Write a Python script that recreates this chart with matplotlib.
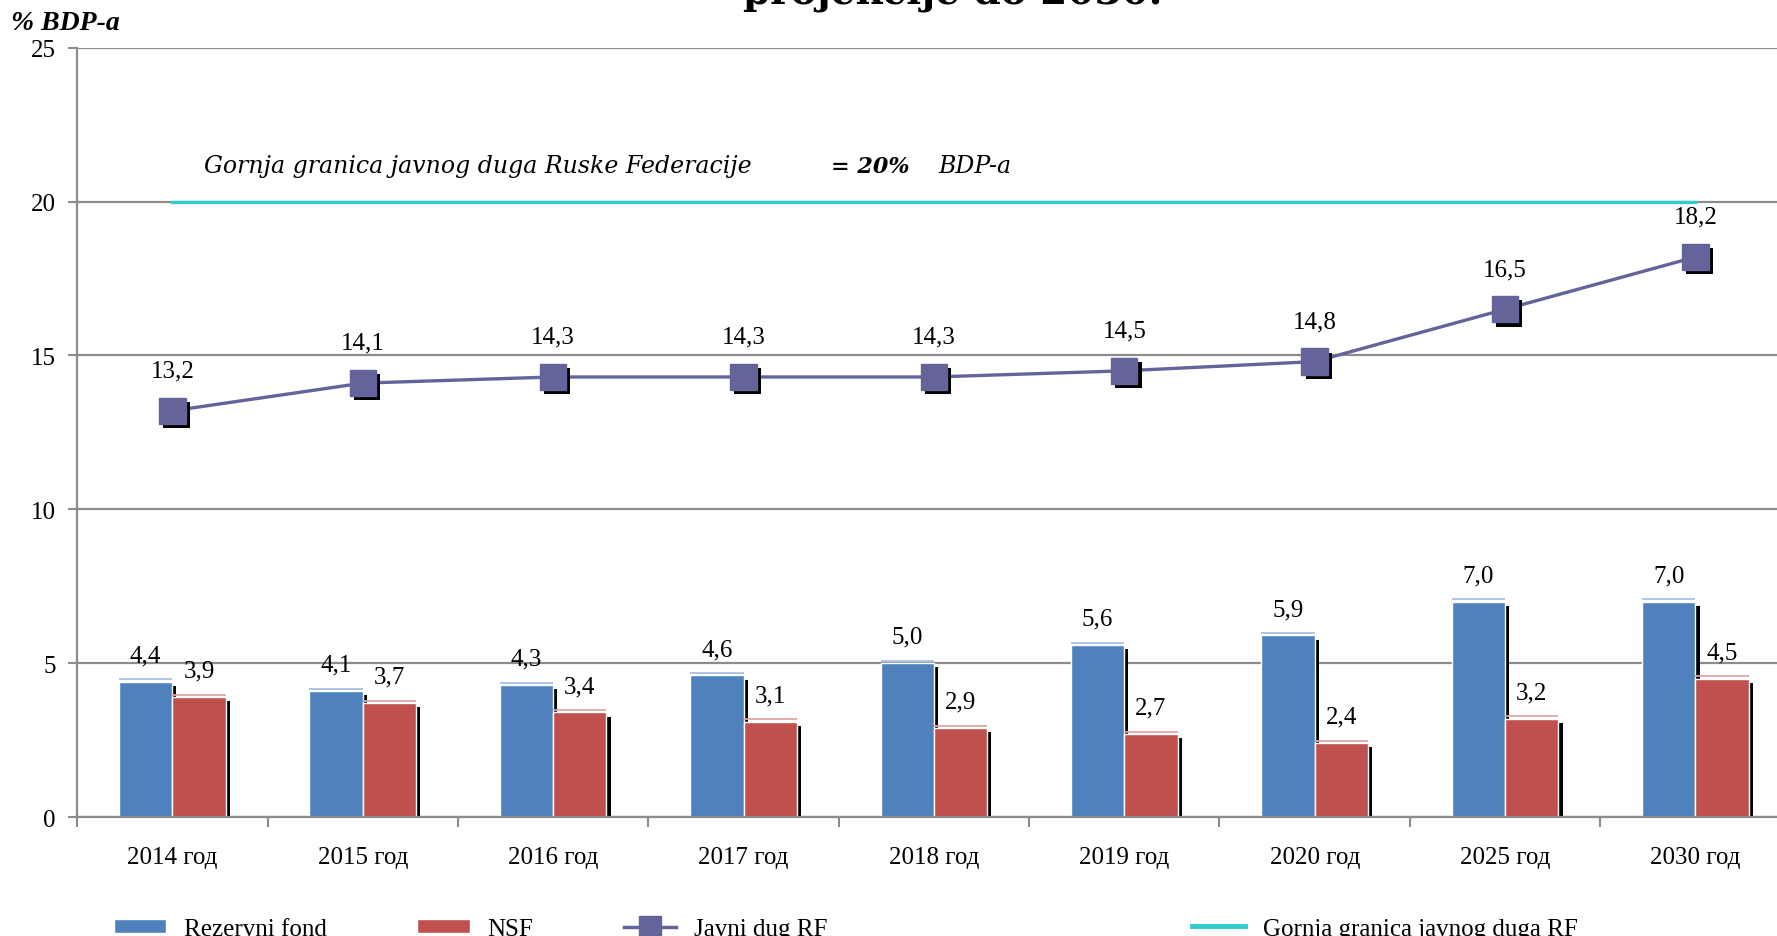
import numpy as np
import matplotlib
matplotlib.use('Agg')
import matplotlib.pyplot as plt
import matplotlib.patheffects as pe
from matplotlib.patches import Patch
from matplotlib.lines import Line2D

categories = ['2014 год', '2015 год', '2016 год', '2017 год', '2018 год',
              '2019 год', '2020 год', '2025 год', '2030 год']
rezervni_fond = [4.4, 4.1, 4.3, 4.6, 5.0, 5.6, 5.9, 7.0, 7.0]
nsf = [3.9, 3.7, 3.4, 3.1, 2.9, 2.7, 2.4, 3.2, 4.5]
javni_dug = [13.2, 14.1, 14.3, 14.3, 14.3, 14.5, 14.8, 16.5, 18.2]
gornja_granica = [20, 20, 20, 20, 20, 20, 20, 20, 20]

BLUE = '#4F81BD'
RED = '#C0504D'
PURPLE = '#64649B'
CYAN = '#33CCCC'
GRID = '#8C8C8C'

plt.rcParams['font.family'] = ['Liberation Serif', 'DejaVu Serif']
plt.rcParams['font.size'] = 18


def fmt(v):
    return '{:.1f}'.format(v).replace('.', ',')


def shadow():
    return [pe.SimplePatchShadow(offset=(3, -3), shadow_rgbFace='black', alpha=1), pe.Normal()]


fig = plt.figure(figsize=(17.77, 9.37), dpi=100)
ax = fig.add_axes([0.0434, 0.127, 0.9643, 0.821])

x = np.arange(len(categories))
width = 0.28

bars1 = ax.bar(x - width / 2, rezervni_fond, width, color=BLUE, edgecolor='white',
               linewidth=1, path_effects=shadow(), zorder=2)
bars2 = ax.bar(x + width / 2, nsf, width, color=RED, edgecolor='white',
               linewidth=1, path_effects=shadow(), zorder=2)

# light rim on top of each bar
ax.hlines(np.array(rezervni_fond) + 0.07, x - width, x, color='#A9C1E4', lw=1.3, zorder=2.5)
ax.hlines(np.array(nsf) + 0.07, x, x + width, color='#E2A6A4', lw=1.3, zorder=2.5)

ax.plot(x, gornja_granica, color=CYAN, lw=2.4, zorder=3)
ax.plot(x, javni_dug, color=PURPLE, lw=2.4, zorder=4)
ax.plot(x, javni_dug, ls='none', marker='s', ms=19, mfc=PURPLE, mec=PURPLE,
        path_effects=shadow(), zorder=5)

for rects in (bars1, bars2):
    for rect in rects:
        h = rect.get_height()
        ax.annotate(fmt(h), xy=(rect.get_x() + rect.get_width() / 2, h),
                    xytext=(0, 19), textcoords='offset points',
                    ha='center', va='center', fontsize=18)

for xi, v in zip(x, javni_dug):
    ax.annotate(fmt(v), xy=(xi, v), xytext=(0, 29), textcoords='offset points',
                ha='center', va='center', fontsize=18)

ax.set_xlim(-0.5, len(categories) - 0.5)
ax.set_ylim(0, 25)
ax.set_yticks(np.arange(0, 26, 5))
ax.set_xticks(x)
ax.set_xticklabels(categories)
ax.set_xticks(np.arange(-0.5, len(categories), 1), minor=True)
ax.tick_params(axis='x', which='major', length=0, pad=21, labelsize=18)
ax.tick_params(axis='x', which='minor', length=7, width=1.5, color=GRID)
ax.tick_params(axis='y', length=6.5, width=1.5, color=GRID, pad=9, labelsize=18)
ax.yaxis.grid(True, color=GRID, lw=1.6)
ax.set_axisbelow(True)
for s in ('top', 'right'):
    ax.spines[s].set_visible(False)
for s in ('left', 'bottom'):
    ax.spines[s].set_color(GRID)
    ax.spines[s].set_linewidth(1.6)

fig.text(0.006, 0.975, '% BDP-a', fontsize=20, fontweight='bold', fontstyle='italic',
         va='center', ha='left')
fig.text(0.536, 0.996, 'projekcije do 2030.', family='DejaVu Serif', fontsize=28,
         fontweight='bold', ha='center', va='baseline')

fig.text(0.1148, 0.822, 'Gornja granica javnog duga Ruske Federacije', family='DejaVu Serif',
         fontsize=17, fontstyle='italic', va='center')
fig.text(0.4675, 0.822, '= 20%', family='DejaVu Serif', fontsize=16, fontstyle='italic',
         fontweight='bold', va='center')
fig.text(0.528, 0.822, 'BDP-a', family='DejaVu Serif', fontsize=17, fontstyle='italic',
         va='center')

handles1 = [Patch(facecolor=BLUE, edgecolor='white'),
            Patch(facecolor=RED, edgecolor='white'),
            Line2D([], [], color=PURPLE, lw=2.5, marker='s', ms=16)]
labels1 = ['Rezervni fond', 'NSF', 'Javni dug RF']
fig.legend(handles1, labels1, loc='center left', bbox_to_anchor=(0.057, 0.008),
           ncol=3, frameon=False, fontsize=18, borderpad=0, handlelength=2.1,
           handleheight=0.5, handletextpad=0.72, columnspacing=3.6)
fig.legend([Line2D([], [], color=CYAN, lw=3.5)], ['Gornja granica javnog duga RF'],
           loc='center left', bbox_to_anchor=(0.664, 0.008), frameon=False, fontsize=18,
           borderpad=0, handlelength=2.1, handletextpad=0.72)

fig.savefig('out.png', dpi=100)
